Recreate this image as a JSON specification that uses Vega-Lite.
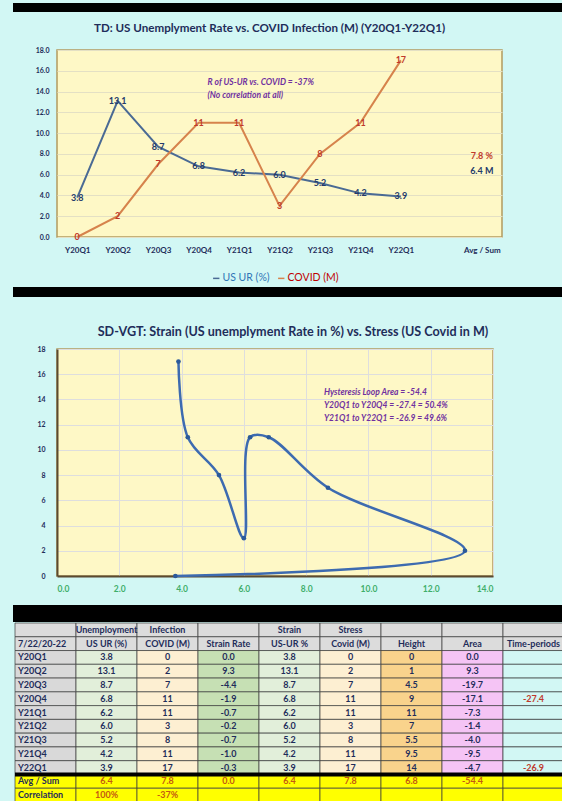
{
  "$schema": "https://vega.github.io/schema/vega-lite/v6.json",
  "background": "#d2f7f4",
  "padding": {"left": 13, "top": 3, "right": 0, "bottom": 0},
  "config": {
    "font": "Lato",
    "view": {"stroke": null},
    "axis": {"labelFont": "Lato", "labelFontWeight": "bold", "labelColor": "#1f2d5a", "ticks": false, "domain": false, "labelOverlap": false},
    "title": {"font": "Lato", "fontWeight": "bold", "color": "#1f2d5a", "fontSize": 12.5},
    "text": {"font": "Lato"},
    "legend": {"labelFont": "Lato"}
  },
  "datasets": {
    "one": [{}],
    "quarters": [
      {"q": "Y20Q1", "ur": 3.8, "covid": 0},
      {"q": "Y20Q2", "ur": 13.1, "covid": 2},
      {"q": "Y20Q3", "ur": 8.7, "covid": 7},
      {"q": "Y20Q4", "ur": 6.8, "covid": 11},
      {"q": "Y21Q1", "ur": 6.2, "covid": 11},
      {"q": "Y21Q2", "ur": 6.0, "covid": 3},
      {"q": "Y21Q3", "ur": 5.2, "covid": 8},
      {"q": "Y21Q4", "ur": 4.2, "covid": 11},
      {"q": "Y22Q1", "ur": 3.9, "covid": 17}
    ],
    "table": [
      {"r": 1, "c0": "", "c1": "Unemployment", "c2": "Infection", "c3": "", "c4": "Strain", "c5": "Stress", "c6": "", "c7": "", "c8": ""},
      {"r": 2, "c0": "7/22/20-22", "c1": "US UR (%)", "c2": "COVID (M)", "c3": "Strain Rate", "c4": "US-UR %", "c5": "Covid (M)", "c6": "Height", "c7": "Area", "c8": "Time-periods"},
      {"r": 3, "c0": "Y20Q1", "c1": "3.8", "c2": "0", "c3": "0.0", "c4": "3.8", "c5": "0", "c6": "0", "c7": "0.0", "c8": ""},
      {"r": 4, "c0": "Y20Q2", "c1": "13.1", "c2": "2", "c3": "9.3", "c4": "13.1", "c5": "2", "c6": "1", "c7": "9.3", "c8": ""},
      {"r": 5, "c0": "Y20Q3", "c1": "8.7", "c2": "7", "c3": "-4.4", "c4": "8.7", "c5": "7", "c6": "4.5", "c7": "-19.7", "c8": ""},
      {"r": 6, "c0": "Y20Q4", "c1": "6.8", "c2": "11", "c3": "-1.9", "c4": "6.8", "c5": "11", "c6": "9", "c7": "-17.1", "c8": "-27.4"},
      {"r": 7, "c0": "Y21Q1", "c1": "6.2", "c2": "11", "c3": "-0.7", "c4": "6.2", "c5": "11", "c6": "11", "c7": "-7.3", "c8": ""},
      {"r": 8, "c0": "Y21Q2", "c1": "6.0", "c2": "3", "c3": "-0.2", "c4": "6.0", "c5": "3", "c6": "7", "c7": "-1.4", "c8": ""},
      {"r": 9, "c0": "Y21Q3", "c1": "5.2", "c2": "8", "c3": "-0.7", "c4": "5.2", "c5": "8", "c6": "5.5", "c7": "-4.0", "c8": ""},
      {"r": 10, "c0": "Y21Q4", "c1": "4.2", "c2": "11", "c3": "-1.0", "c4": "4.2", "c5": "11", "c6": "9.5", "c7": "-9.5", "c8": ""},
      {"r": 11, "c0": "Y22Q1", "c1": "3.9", "c2": "17", "c3": "-0.3", "c4": "3.9", "c5": "17", "c6": "14", "c7": "-4.7", "c8": "-26.9"},
      {"r": 12, "c0": "Avg / Sum", "c1": "6.4", "c2": "7.8", "c3": "0.0", "c4": "6.4", "c5": "7.8", "c6": "6.8", "c7": "-54.4", "c8": ""},
      {"r": 13, "c0": "Correlation", "c1": "100%", "c2": "-37%", "c3": "", "c4": "", "c5": "", "c6": "", "c7": "", "c8": ""}
    ]
  },
  "concat": [
    {
      "concat": [
        {
          "width": 505, "height": 9,
          "data": {"name": "one"},
          "mark": {"type": "rect", "color": "#000000", "opacity": 1},
          "encoding": {
            "x": {"datum": 0, "type": "quantitative", "scale": {"domain": [0, 1], "range": [-44, 505]}, "axis": null},
            "x2": {"datum": 1},
            "y": {"datum": 0, "type": "quantitative", "scale": {"domain": [0, 1]}, "axis": null},
            "y2": {"datum": 1}
          }
        },
        {
          "width": 445, "height": 187,
          "view": {"fill": "#fef8c6", "stroke": "#b39b5f", "strokeWidth": 1.5},
          "title": {"text": [" ", "TD:  US Unemplyment Rate vs. COVID Infection (M)  (Y20Q1-Y22Q1)"], "fontSize": 11.6, "lineHeight": 8, "offset": 11, "dx": -10},
          "data": {"name": "quarters"},
          "layer": [
            {
              "transform": [{"fold": ["ur", "covid"], "as": ["s", "v"]}],
              "mark": {"type": "line", "strokeWidth": 2},
              "encoding": {
                "x": {"field": "q", "type": "nominal",
                  "scale": {"domain": ["Y20Q1", "Y20Q2", "Y20Q3", "Y20Q4", "Y21Q1", "Y21Q2", "Y21Q3", "Y21Q4", "Y22Q1", " ", "Avg / Sum"], "paddingInner": 0, "paddingOuter": 0},
                  "axis": {"title": null, "labelAngle": 0, "labelFontSize": 8, "labelPadding": 9, "grid": false}},
                "y": {"field": "v", "type": "quantitative",
                  "scale": {"domain": [0, 18], "nice": false},
                  "axis": {"values": [0, 2, 4, 6, 8, 10, 12, 14, 16, 18], "format": ".1f", "labelFontSize": 7, "labelPadding": 8, "grid": true, "gridColor": "#e4e0c4", "title": null}},
                "color": {"field": "s", "type": "nominal",
                  "scale": {"domain": ["ur", "covid"], "range": ["#4a6a94", "#d6834c"]},
                  "legend": {"orient": "none", "legendX": 154, "legendY": 223, "direction": "horizontal", "title": null, "padding": 0,
                    "labelExpr": "datum.value === 'ur' ? 'US UR (%)' : 'COVID (M)'",
                    "symbolType": "stroke", "symbolSize": 40, "symbolStrokeWidth": 1.5, "labelFontSize": 10.5, "labelOffset": 1, "columnPadding": 5,
                    "encode": {
                      "labels": {"update": {"fill": {"signal": "datum.value === 'ur' ? '#2e75b6' : '#c00000'"}}},
                      "symbols": {"update": {"stroke": {"signal": "datum.value === 'ur' ? '#2e75b6' : '#c00000'"}}}
                    }}}
              }
            },
            {
              "mark": {"type": "text", "fontWeight": "bold", "fontSize": 9, "color": "#243a6b"},
              "encoding": {
                "x": {"field": "q", "type": "nominal", "axis": {"title": null, "labelAngle": 0, "labelFontSize": 8, "labelPadding": 9, "grid": false}},
                "y": {"field": "ur", "type": "quantitative", "axis": {"values": [0, 2, 4, 6, 8, 10, 12, 14, 16, 18], "format": ".1f", "labelFontSize": 7, "labelPadding": 8, "grid": true, "gridColor": "#e4e0c4", "title": null}},
                "text": {"field": "ur", "type": "quantitative", "format": ".1f"}
              }
            },
            {
              "mark": {"type": "text", "fontWeight": "bold", "fontSize": 9, "color": "#c0392b"},
              "encoding": {
                "x": {"field": "q", "type": "nominal", "axis": {"title": null, "labelAngle": 0, "labelFontSize": 8, "labelPadding": 9, "grid": false}},
                "y": {"field": "covid", "type": "quantitative", "axis": {"values": [0, 2, 4, 6, 8, 10, 12, 14, 16, 18], "format": ".1f", "labelFontSize": 7, "labelPadding": 8, "grid": true, "gridColor": "#e4e0c4", "title": null}},
                "text": {"field": "covid", "type": "quantitative"}
              }
            },
            {
              "data": {"name": "one"},
              "mark": {"type": "text", "text": "7.8 %", "fontWeight": "bold", "fontSize": 9, "color": "#c0392b"},
              "encoding": {
                "x": {"datum": "Avg / Sum", "type": "nominal", "axis": {"title": null, "labelAngle": 0, "labelFontSize": 8, "labelPadding": 9, "grid": false}},
                "y": {"datum": 7.8, "type": "quantitative", "axis": {"values": [0, 2, 4, 6, 8, 10, 12, 14, 16, 18], "format": ".1f", "labelFontSize": 7, "labelPadding": 8, "grid": true, "gridColor": "#e4e0c4", "title": null}}
              }
            },
            {
              "data": {"name": "one"},
              "mark": {"type": "text", "text": "6.4 M", "fontWeight": "bold", "fontSize": 9, "color": "#243a6b"},
              "encoding": {
                "x": {"datum": "Avg / Sum", "type": "nominal", "axis": {"title": null, "labelAngle": 0, "labelFontSize": 8, "labelPadding": 9, "grid": false}},
                "y": {"datum": 6.4, "type": "quantitative", "axis": {"values": [0, 2, 4, 6, 8, 10, 12, 14, 16, 18], "format": ".1f", "labelFontSize": 7, "labelPadding": 8, "grid": true, "gridColor": "#e4e0c4", "title": null}}
              }
            },
            {
              "data": {"name": "one"},
              "mark": {"type": "text", "text": ["R of US-UR vs. COVID = -37%", "(No correlation at all)"], "align": "left", "baseline": "top", "dx": 9, "fontStyle": "italic", "fontWeight": "bold", "fontSize": 8.5, "lineHeight": 13, "color": "#7030a0"},
              "encoding": {
                "x": {"datum": "Y20Q4", "type": "nominal", "axis": {"title": null, "labelAngle": 0, "labelFontSize": 8, "labelPadding": 9, "grid": false}},
                "y": {"datum": 15.3, "type": "quantitative", "axis": {"values": [0, 2, 4, 6, 8, 10, 12, 14, 16, 18], "format": ".1f", "labelFontSize": 7, "labelPadding": 8, "grid": true, "gridColor": "#e4e0c4", "title": null}}
              }
            }
          ]
        },
        {
          "width": 505, "height": 10,
          "data": {"name": "one"},
          "mark": {"type": "rect", "color": "#000000", "opacity": 1},
          "encoding": {
            "x": {"datum": 0, "type": "quantitative", "scale": {"domain": [0, 1], "range": [-44, 505]}, "axis": null},
            "x2": {"datum": 1},
            "y": {"datum": 0, "type": "quantitative", "scale": {"domain": [0, 1]}, "axis": null},
            "y2": {"datum": 1}
          }
        },
        {
          "width": 436, "height": 227,
          "view": {"fill": "#fef8c6", "stroke": "#b39b5f", "strokeWidth": 1.5},
          "title": {"text": [" ", "SD-VGT:  Strain (US unemplyment Rate in %) vs. Stress (US Covid in M)"], "fontSize": 12.6, "lineHeight": 26, "offset": 6, "dx": 18},
          "layer": [
            {
              "data": {"name": "quarters"},
              "mark": {"type": "line", "interpolate": "catmull-rom", "color": "#3d6bb0", "strokeWidth": 2.5},
              "encoding": {
                "x": {"field": "ur", "type": "quantitative", "scale": {"domain": [0, 14], "nice": false},
                  "axis": {"values": [0, 2, 4, 6, 8, 10, 12, 14], "format": ".1f", "labelColor": "#3fae6a", "labelFontSize": 8.5, "labelPadding": 8, "grid": true, "gridColor": "#dedede", "domain": true, "domainColor": "#5a4a30", "domainWidth": 2, "title": " ", "titleColor": "rgba(0,0,0,0)", "titleFontSize": 4, "titlePadding": 5}},
                "y": {"field": "covid", "type": "quantitative", "scale": {"domain": [0, 18], "nice": false},
                  "axis": {"values": [0, 2, 4, 6, 8, 10, 12, 14, 16, 18], "format": "d", "labelFontSize": 7, "labelPadding": 12, "grid": true, "gridColor": "#dedede", "domain": true, "domainColor": "#5a4a30", "domainWidth": 2, "title": null}},
                "order": {"field": "q"}
              }
            },
            {
              "data": {"name": "quarters"},
              "mark": {"type": "circle", "size": 22, "color": "#2b5a9a", "opacity": 1},
              "encoding": {
                "x": {"field": "ur", "type": "quantitative", "axis": {"values": [0, 2, 4, 6, 8, 10, 12, 14], "format": ".1f", "labelColor": "#3fae6a", "labelFontSize": 8.5, "labelPadding": 8, "grid": true, "gridColor": "#dedede", "domain": true, "domainColor": "#5a4a30", "domainWidth": 2, "title": " ", "titleColor": "rgba(0,0,0,0)", "titleFontSize": 4, "titlePadding": 5}},
                "y": {"field": "covid", "type": "quantitative", "axis": {"values": [0, 2, 4, 6, 8, 10, 12, 14, 16, 18], "format": "d", "labelFontSize": 7, "labelPadding": 12, "grid": true, "gridColor": "#dedede", "domain": true, "domainColor": "#5a4a30", "domainWidth": 2, "title": null}}
              }
            },
            {
              "data": {"name": "one"},
              "mark": {"type": "text", "text": ["Hysteresis Loop Area = -54.4", "Y20Q1 to Y20Q4 = -27.4 = 50.4%", "Y21Q1 to Y22Q1 = -26.9 = 49.6%"], "align": "left", "baseline": "top", "fontStyle": "italic", "fontWeight": "bold", "fontSize": 8.5, "lineHeight": 13, "color": "#7030a0"},
              "encoding": {
                "x": {"datum": 8.57, "type": "quantitative", "axis": {"values": [0, 2, 4, 6, 8, 10, 12, 14], "format": ".1f", "labelColor": "#3fae6a", "labelFontSize": 8.5, "labelPadding": 8, "grid": true, "gridColor": "#dedede", "domain": true, "domainColor": "#5a4a30", "domainWidth": 2, "title": " ", "titleColor": "rgba(0,0,0,0)", "titleFontSize": 4, "titlePadding": 5}},
                "y": {"datum": 14.9, "type": "quantitative", "axis": {"values": [0, 2, 4, 6, 8, 10, 12, 14, 16, 18], "format": "d", "labelFontSize": 7, "labelPadding": 12, "grid": true, "gridColor": "#dedede", "domain": true, "domainColor": "#5a4a30", "domainWidth": 2, "title": null}}
              }
            }
          ]
        },
        {
          "width": 505, "height": 17,
          "data": {"name": "one"},
          "mark": {"type": "rect", "color": "#000000", "opacity": 1},
          "encoding": {
            "x": {"datum": 0, "type": "quantitative", "scale": {"domain": [0, 1], "range": [-44, 505]}, "axis": null},
            "x2": {"datum": 1},
            "y": {"datum": 0, "type": "quantitative", "scale": {"domain": [0, 1]}, "axis": null},
            "y2": {"datum": 1}
          }
        }
      ],
      "columns": 1, "spacing": 2,
      "resolve": {"scale": {"color": "independent"}, "legend": {"color": "independent"}}
    },
    {
      "width": 507, "height": 179,
      "data": {"name": "table"},
      "transform": [{"fold": ["c0", "c1", "c2", "c3", "c4", "c5", "c6", "c7", "c8"], "as": ["col", "txt"]}],
      "encoding": {
        "y": {"field": "r", "type": "ordinal", "scale": {"paddingInner": 0, "paddingOuter": 0}, "axis": null}
      },
      "layer": [
        {
          "mark": {"type": "rect", "stroke": "#3a3a3a", "strokeWidth": 0.7, "opacity": 1},
          "encoding": {
            "x": {"field": "col", "type": "nominal", "scale": {"range": [-42, 507], "paddingInner": 0, "paddingOuter": 0}, "axis": null},
            "color": {"field": "col", "type": "nominal", "legend": null,
              "scale": {"domain": ["c0", "c1", "c2", "c3", "c4", "c5", "c6", "c7", "c8"], "range": ["#d9d9d9", "#e2efda", "#fdefd2", "#c6e0b4", "#e2efda", "#fdefd2", "#f9d38c", "#f5c4f5", "#d2f7f4"]},
              "condition": [{"test": "datum.r <= 2", "value": "#dcdcdc"}, {"test": "datum.r >= 12", "value": "#ffff00"}]}
          }
        },
        {
          "transform": [{"filter": "datum.col === 'c0'"}],
          "mark": {"type": "text", "align": "left", "dx": 3, "fontWeight": "bold", "fontSize": 9, "color": "#1f2d5a"},
          "encoding": {
            "x": {"field": "col", "type": "nominal", "bandPosition": 0},
            "text": {"field": "txt", "type": "nominal"}
          }
        },
        {
          "transform": [{"filter": "datum.col !== 'c0'"}],
          "mark": {"type": "text", "fontWeight": "bold", "fontSize": 9},
          "encoding": {
            "x": {"field": "col", "type": "nominal"},
            "text": {"field": "txt", "type": "nominal"},
            "color": {"condition": [{"test": "datum.r >= 12", "value": "#c55a11"}, {"test": "datum.col === 'c8' && datum.r > 2", "value": "#c0392b"}], "value": "#1f2d5a"}
          }
        },
        {
          "transform": [{"filter": "datum.r === 12"}],
          "mark": {"type": "tick", "orient": "horizontal", "color": "#000000", "thickness": 4, "size": 61, "opacity": 1},
          "encoding": {
            "x": {"field": "col", "type": "nominal"},
            "y": {"field": "r", "type": "ordinal", "bandPosition": 0}
          }
        }
      ]
    }
  ],
  "columns": 1, "spacing": 0,
  "resolve": {"scale": {"color": "independent"}, "legend": {"color": "independent"}}
}
